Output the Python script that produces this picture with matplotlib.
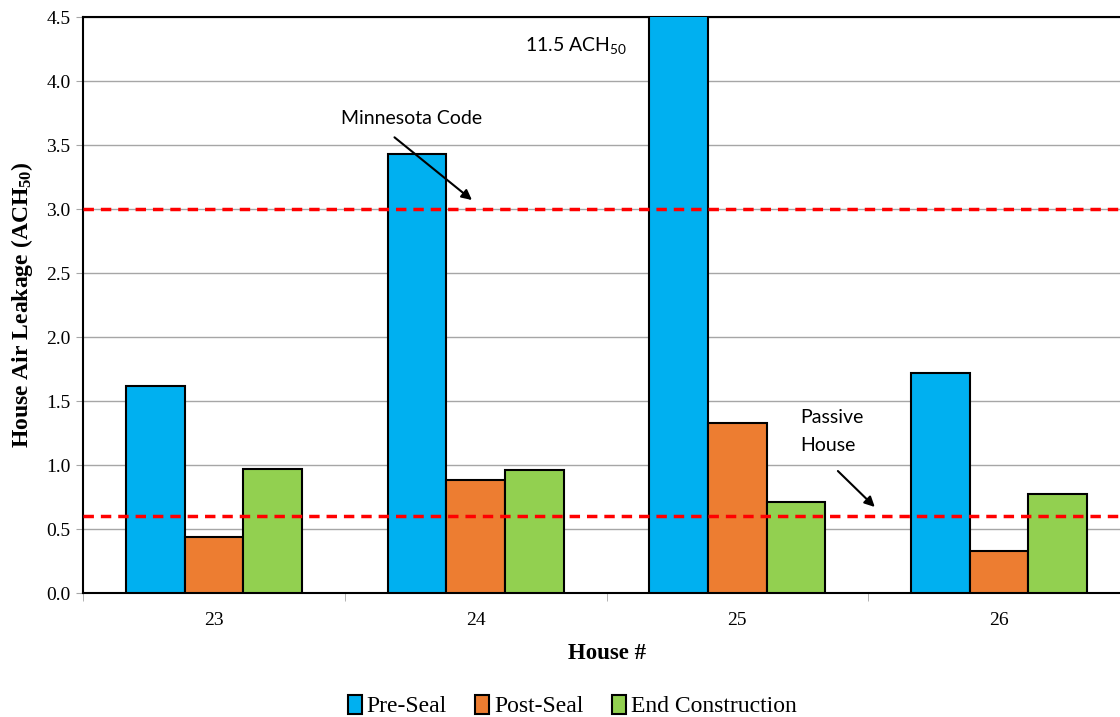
import numpy as np
import matplotlib
matplotlib.use("Agg")
import matplotlib.pyplot as plt

# values (ACH50)
houses = ["23", "24", "25", "26"]
pre_seal = [1.62, 3.43, 11.5, 1.72]
post_seal = [0.44, 0.88, 1.33, 0.33]
end_construction = [0.97, 0.96, 0.71, 0.77]
series_names = ["Pre-Seal", "Post-Seal", "End Construction"]
colors = ["#00b0f0", "#ed7d31", "#92d050"]
mn_code = 3.0
passive_house = 0.6

serif = ["Liberation Serif", "DejaVu Serif"]
sans = ["Lato", "DejaVu Sans"]

fig = plt.figure(figsize=(11.2, 7.17), dpi=100)
ax = fig.add_axes([83 / 1120, 124 / 717, 1047 / 1120, 576 / 717])

x = np.arange(len(houses))
w = 0.224
for i, (vals, name, c) in enumerate(zip([pre_seal, post_seal, end_construction], series_names, colors)):
    ax.bar(x + (i - 1) * w, vals, width=w, color=c, edgecolor="black", linewidth=1.5,
           label=name, zorder=3)

# reference lines
ax.axhline(mn_code, color="#ff0000", lw=2.5, ls=(0, (3, 2)), zorder=4)
ax.axhline(passive_house, color="#ff0000", lw=2.5, ls=(0, (3, 2)), zorder=4)

ax.set_ylim(0, 4.5)
ax.set_xlim(-0.5, len(houses) - 0.5)
yt = np.arange(0, 4.51, 0.5)
ax.set_yticks(yt)
ax.set_yticklabels([f"{v:.1f}" for v in yt], fontfamily=serif, fontsize=14)
ax.yaxis.grid(True, color="#a6a6a6", lw=1, zorder=0)
ax.set_axisbelow(True)

ax.set_xticks(x)
ax.set_xticklabels(houses, fontfamily=serif, fontsize=14)
ax.tick_params(axis="x", length=0, pad=14)
ax.set_xticks(np.arange(-0.5, len(houses), 1), minor=True)
ax.tick_params(axis="x", which="minor", length=6, color="#a6a6a6")
ax.tick_params(axis="y", length=5, color="#a6a6a6", pad=4)

for s in ax.spines.values():
    s.set_color("black")
    s.set_linewidth(1.5)

ax.set_ylabel(r"House Air Leakage (ACH$\mathregular{_{50}}$)", fontfamily=serif, fontsize=17,
              fontweight="bold", labelpad=8)
ax.set_xlabel("House #", fontfamily=serif, fontsize=16.5, fontweight="bold", labelpad=10)

# annotations
ax.text(1.58, 4.28, r"11.5 ACH$\mathregular{_{50}}$", fontfamily=sans, fontsize=14,
        ha="right", va="center")
ax.text(0.756, 3.71, "Minnesota Code", fontfamily=sans, fontsize=14, ha="center", va="center")
ax.annotate("", xy=(0.986, 3.07), xytext=(0.69, 3.56),
            arrowprops=dict(arrowstyle="-|>", color="black", lw=1.5, mutation_scale=15,
                            shrinkA=0, shrinkB=0))
ax.text(2.24, 1.26, "Passive\nHouse", fontfamily=sans, fontsize=14, ha="left", va="center",
        linespacing=1.75)
ax.annotate("", xy=(2.525, 0.672), xytext=(2.384, 0.953),
            arrowprops=dict(arrowstyle="-|>", color="black", lw=1.5, mutation_scale=15,
                            shrinkA=0, shrinkB=0))

leg = fig.legend(loc="center", bbox_to_anchor=(572 / 1120, 1 - 706 / 717), ncol=3,
                 frameon=False, prop={"family": serif, "size": 17},
                 handlelength=0.6, handleheight=0.9, handletextpad=0.2, columnspacing=1.2)

fig.savefig("out.png", dpi=100)
